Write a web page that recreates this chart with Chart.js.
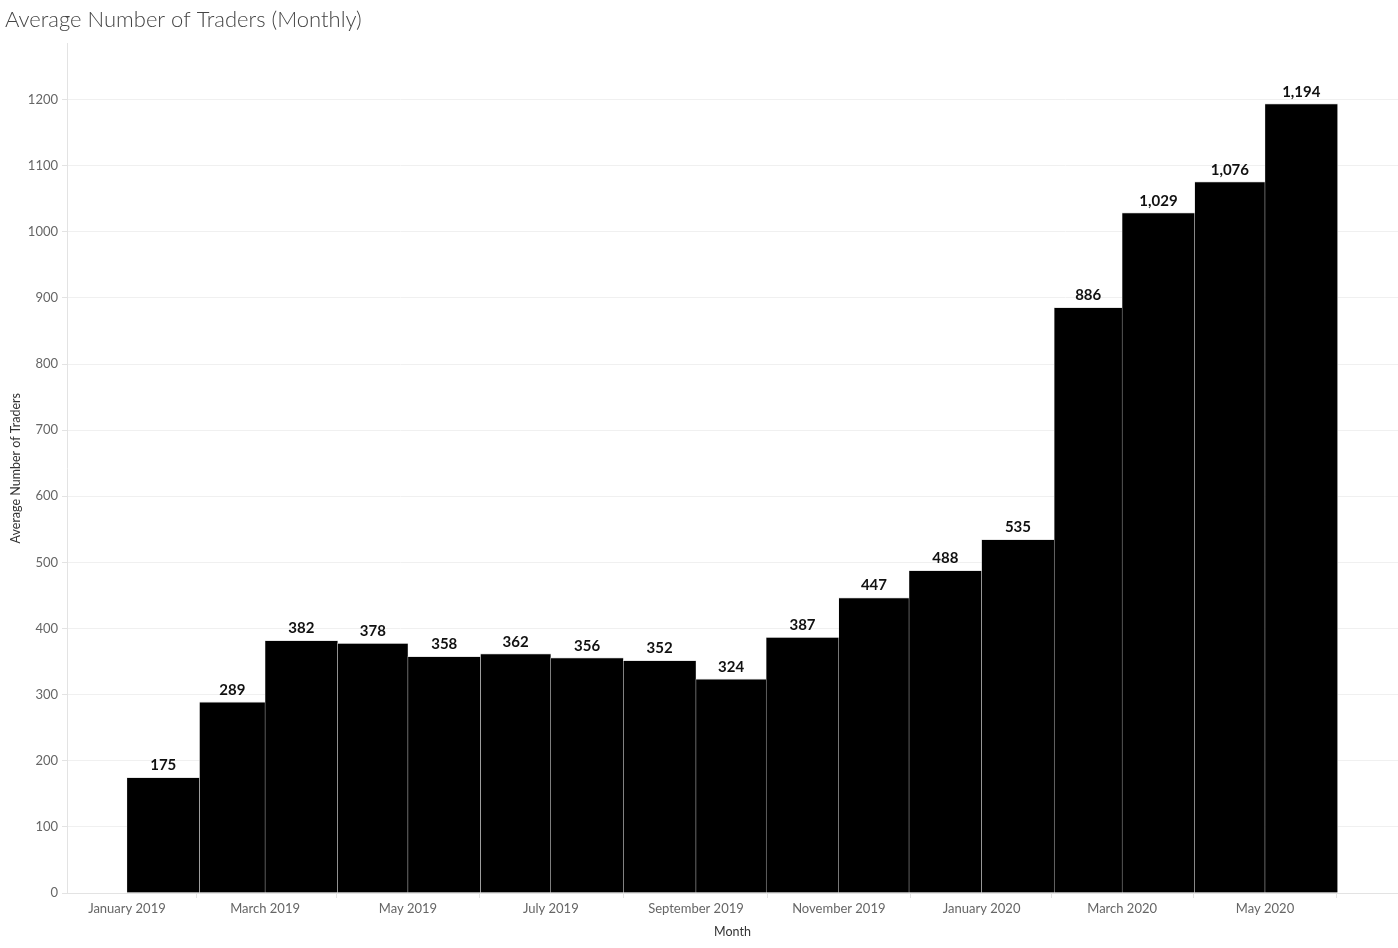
<!DOCTYPE html>
<html>
<head>
<meta charset="utf-8">
<title>Average Number of Traders (Monthly)</title>
<script src="https://cdn.jsdelivr.net/npm/chart.js@4.4.0/dist/chart.umd.min.js"></script>
<style>
  html, body { margin: 0; padding: 0; background: #fff; }
  #wrap { width: 1398px; height: 948px; }
</style>
</head>
<body>
<div id="wrap"><canvas id="chart"></canvas></div>
<script>
// data
const months = ['2019-01', '2019-02', '2019-03', '2019-04', '2019-05', '2019-06', '2019-07', '2019-08', '2019-09',
                '2019-10', '2019-11', '2019-12', '2020-01', '2020-02', '2020-03', '2020-04', '2020-05'];
const traders = [175, 289, 382, 378, 358, 362, 356, 352, 324, 387, 447, 488, 535, 886, 1029, 1076, 1194];
const tickMonths = ['2019-01', '2019-03', '2019-05', '2019-07', '2019-09', '2019-11', '2020-01', '2020-03', '2020-05'];
const tickLabels = ['January 2019', 'March 2019', 'May 2019', 'July 2019', 'September 2019', 'November 2019',
                    'January 2020', 'March 2020', 'May 2020'];

// continuous time axis in days since 1 Jan 2019
const DAY = 86400000;
const origin = Date.UTC(2019, 0, 1);
function dayOf(ym, add) {
    const [y, m] = ym.split('-').map(Number);
    return (Date.UTC(y, m - 1 + (add || 0), 1) - origin) / DAY;
}
const starts = months.map(m => dayOf(m));
const ends = months.map(m => dayOf(m, 1));
const tickDays = tickMonths.map(m => dayOf(m));

// each bar spans its whole month on the time scale
const monthSpan = {
    id: 'monthSpan',
    afterDatasetsUpdate(chart) {
        const xs = chart.scales.x;
        chart.getDatasetMeta(0).data.forEach((bar, i) => {
            const a = xs.getPixelForValue(starts[i]);
            const b = xs.getPixelForValue(ends[i]);
            bar.x = (a + b) / 2;
            bar.width = b - a;
        });
    }
};

const barLabels = {
    id: 'barLabels',
    afterDatasetsDraw(chart) {
        const ctx = chart.ctx;
        ctx.save();
        ctx.font = 'bold 15px Lato, "Open Sans", sans-serif';
        ctx.fillStyle = '#111';
        ctx.textAlign = 'center';
        ctx.textBaseline = 'alphabetic';
        chart.getDatasetMeta(0).data.forEach((bar, i) => {
            ctx.fillText(traders[i].toLocaleString('en-US'), bar.x, bar.y - 7);
        });
        ctx.restore();
    }
};

const tickFont = { family: 'Lato, "Open Sans", sans-serif', size: 13 };
const axisTitleFont = { family: 'Lato, "Open Sans", sans-serif', size: 12.5 };

new Chart(document.getElementById('chart'), {
    type: 'bar',
    data: {
        datasets: [{
            label: 'Average Number of Traders',
            data: traders.map((v, i) => ({ x: (starts[i] + ends[i]) / 2, y: v })),
            backgroundColor: '#000',
            borderColor: '#e6e6e6',
            borderWidth: { top: 1, left: 0.5, right: 0.5, bottom: 0 },
            barPercentage: 1,
            categoryPercentage: 1
        }]
    },
    options: {
        responsive: true,
        maintainAspectRatio: false,
        animation: false,
        events: [],
        layout: { padding: { left: 5, right: 0, top: 0, bottom: 0 } },
        plugins: {
            legend: { display: false },
            tooltip: { enabled: false },
            title: {
                display: true,
                text: 'Average Number of Traders (Monthly)',
                align: 'start',
                color: '#444',
                font: { family: 'Lato, "Open Sans", sans-serif', size: 22, weight: '300' },
                padding: { top: 7, bottom: 10 }
            }
        },
        scales: {
            x: {
                type: 'linear',
                min: -25.6,
                max: 542.8,
                offset: false,
                afterBuildTicks(s) { s.ticks = tickDays.map(v => ({ value: v })); },
                afterFit(s) { s.height = 55; },
                ticks: {
                    autoSkip: false,
                    maxRotation: 0,
                    color: '#666',
                    font: tickFont,
                    padding: 3,
                    callback: (v, i) => tickLabels[i]
                },
                grid: { drawOnChartArea: false, tickLength: 5, color: '#e3e3e3' },
                border: { color: '#e3e3e3' },
                title: {
                    display: true,
                    text: 'Month',
                    color: '#333',
                    font: axisTitleFont,
                    padding: { top: 0, bottom: 8.5 }
                }
            },
            y: {
                min: 0,
                max: 1285,
                afterFit(s) { s.width = 62; },
                ticks: {
                    stepSize: 100,
                    includeBounds: false,
                    color: '#666',
                    font: tickFont,
                    padding: 4,
                    callback: v => String(v)
                },
                grid: { color: '#f0f0f0', tickLength: 5, tickColor: '#e3e3e3' },
                border: { color: '#e3e3e3' },
                title: {
                    display: true,
                    text: 'Average Number of Traders',
                    color: '#333',
                    font: axisTitleFont,
                    padding: { top: 3.5, bottom: 0 }
                }
            }
        }
    },
    plugins: [monthSpan, barLabels]
});
</script>
</body>
</html>
